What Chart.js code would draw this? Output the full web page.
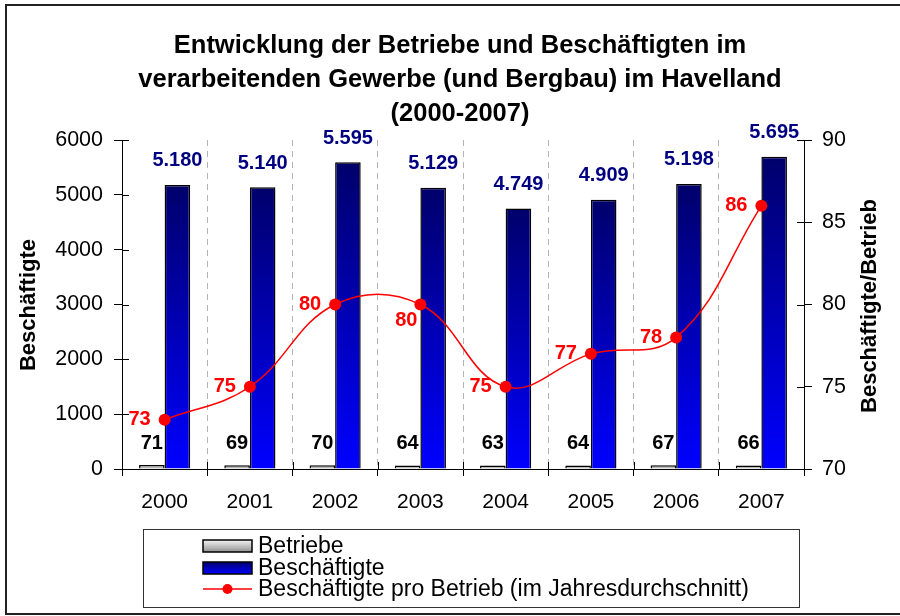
<!DOCTYPE html>
<html>
<head>
<meta charset="utf-8">
<script src="https://cdn.jsdelivr.net/npm/chart.js@4.4.1/dist/chart.umd.min.js"></script>
<style>
  html, body { margin: 0; padding: 0; background: #fff; }
  #wrap { width: 900px; height: 616px; }
</style>
</head>
<body>
<div id="wrap"><canvas id="chart" width="900" height="616"></canvas></div>
<script>
const years = ['2000', '2001', '2002', '2003', '2004', '2005', '2006', '2007'];
const betriebe = [71, 69, 70, 64, 63, 64, 67, 66];
const beschaeftigte = [5180, 5140, 5595, 5129, 4749, 4909, 5198, 5695];
const proBetrieb = [73, 75, 80, 80, 75, 77, 78, 86];
const leftTicks = [0, 1000, 2000, 3000, 4000, 5000, 6000];
const rightTicks = [70, 75, 80, 85, 90];
const titleLines = ['Entwicklung der Betriebe und Beschäftigten im',
  'verarbeitenden Gewerbe (und Bergbau) im Havelland', '(2000-2007)'];
const legendLabels = ['Betriebe', 'Beschäftigte', 'Beschäftigte pro Betrieb (im Jahresdurchschnitt)'];

const FONT = "'Liberation Sans', Arial, sans-serif";

// german thousands separator: 5180 -> 5.180
function dotted(n) {
  return String(n).replace(/\B(?=(\d{3})+(?!\d))/g, '.');
}

function barGradient(c, top, bottom) {
  const chart = c.chart;
  if (!chart.chartArea || c.type !== 'data') return bottom;
  const y = chart.scales.y;
  const y0 = y.getPixelForValue(c.raw);
  const y1 = y.getPixelForValue(0);
  const g = chart.ctx.createLinearGradient(0, y0, 0, Math.max(y1, y0 + 1));
  g.addColorStop(0, top);
  g.addColorStop(1, bottom);
  return g;
}

// frame, title, axis titles, legend, inner tick halves, value labels
const decor = {
  id: 'decor',
  beforeDraw(chart) {
    const ctx = chart.ctx;
    ctx.save();
    ctx.fillStyle = '#fff';
    ctx.fillRect(0, 0, chart.width, chart.height);
    ctx.strokeStyle = '#222';
    ctx.lineWidth = 2;
    ctx.strokeRect(6, 5, 1000, 609);
    ctx.restore();
  },
  afterDraw(chart) {
    const ctx = chart.ctx;
    const area = chart.chartArea;
    ctx.save();

    // title
    ctx.fillStyle = '#000';
    ctx.font = 'bold 25.5px ' + FONT;
    ctx.textAlign = 'center';
    ctx.textBaseline = 'alphabetic';
    titleLines.forEach((t, i) => ctx.fillText(t, 460, 53 + i * 34));

    // axis titles
    ctx.font = 'bold 22px ' + FONT;
    ctx.textBaseline = 'middle';
    ctx.save();
    ctx.translate(29, 305);
    ctx.rotate(-Math.PI / 2);
    ctx.fillText('Beschäftigte', 0, 0);
    ctx.restore();
    ctx.save();
    ctx.translate(870, 306);
    ctx.rotate(-Math.PI / 2);
    ctx.fillText('Beschäftigte/Betrieb', 0, 0);
    ctx.restore();

    // tick marks crossing into the plot
    ctx.strokeStyle = '#000';
    ctx.lineWidth = 1;
    ctx.beginPath();
    chart.scales.y.ticks.forEach(t => {
      const p = Math.round(chart.scales.y.getPixelForValue(t.value)) + 0.5;
      ctx.moveTo(area.left, p); ctx.lineTo(area.left + 7, p);
    });
    chart.scales.y1.ticks.forEach(t => {
      const p = Math.round(chart.scales.y1.getPixelForValue(t.value)) + 0.5;
      ctx.moveTo(area.right - 7, p); ctx.lineTo(area.right, p);
    });
    const xs = chart.scales.x;
    for (let i = 0; i <= years.length; i++) {
      const p = Math.round(xs.left + i * xs.width / years.length) + 0.5;
      ctx.moveTo(p, area.bottom - 7); ctx.lineTo(p, area.bottom);
    }
    ctx.stroke();

    // value labels
    ctx.textBaseline = 'middle';
    ctx.font = 'bold 20px ' + FONT;
    ctx.fillStyle = '#000';
    chart.getDatasetMeta(0).data.forEach((bar, i) => {
      ctx.fillText(betriebe[i], bar.x, bar.y - 22);
    });
    ctx.fillStyle = '#000080';
    chart.getDatasetMeta(1).data.forEach((bar, i) => {
      ctx.fillText(dotted(beschaeftigte[i]), bar.x, bar.y - 24);
    });
    ctx.fillStyle = '#ff0000';
    ctx.textAlign = 'right';
    chart.getDatasetMeta(2).data.forEach((pt, i) => {
      if (i === 3) ctx.fillText(proBetrieb[i], pt.x - 3, pt.y + 16);
      else ctx.fillText(proBetrieb[i], pt.x - 14, pt.y);
    });

    // legend
    ctx.strokeStyle = '#333';
    ctx.lineWidth = 1;
    ctx.strokeRect(143.5, 529.5, 656, 78);
    const rows = [546, 568, 589];
    for (let i = 0; i < 2; i++) {
      const g = ctx.createLinearGradient(0, rows[i] - 6, 0, rows[i] + 6);
      if (i === 0) { g.addColorStop(0, '#f4f4f4'); g.addColorStop(1, '#909090'); }
      else { g.addColorStop(0, '#00006b'); g.addColorStop(1, '#0000ff'); }
      ctx.fillStyle = g;
      ctx.fillRect(203, rows[i] - 6, 49, 12);
      ctx.lineWidth = 1.5;
      ctx.strokeStyle = '#000';
      ctx.strokeRect(203, rows[i] - 6, 49, 12);
    }
    ctx.strokeStyle = '#ff0000';
    ctx.lineWidth = 1.5;
    ctx.beginPath();
    ctx.moveTo(203, rows[2]); ctx.lineTo(252, rows[2]);
    ctx.stroke();
    ctx.fillStyle = '#ff0000';
    ctx.beginPath();
    ctx.arc(227.5, rows[2], 5, 0, Math.PI * 2);
    ctx.fill();
    ctx.fillStyle = '#000';
    ctx.font = '23px ' + FONT;
    ctx.textAlign = 'left';
    legendLabels.forEach((t, i) => ctx.fillText(t, 258, rows[i] + 1));

    ctx.restore();
  }
};

new Chart(document.getElementById('chart'), {
  type: 'bar',
  data: {
    labels: years,
    datasets: [
      {
        label: legendLabels[0],
        data: betriebe,
        yAxisID: 'y',
        order: 1,
        backgroundColor: c => barGradient(c, '#f4f4f4', '#909090'),
        borderColor: '#000',
        borderWidth: 1.5,
        barPercentage: 1,
        categoryPercentage: 0.6
      },
      {
        label: legendLabels[1],
        data: beschaeftigte,
        yAxisID: 'y',
        order: 2,
        backgroundColor: c => barGradient(c, '#00006b', '#0000ff'),
        borderColor: '#000',
        borderWidth: 1.5,
        barPercentage: 1,
        categoryPercentage: 0.6
      },
      {
        type: 'line',
        label: legendLabels[2],
        data: proBetrieb,
        yAxisID: 'y1',
        order: 0,
        borderColor: '#ff0000',
        borderWidth: 1.5,
        tension: 0.4,
        pointRadius: 6,
        pointBackgroundColor: '#ff0000',
        pointBorderColor: '#ff0000',
        pointBorderWidth: 0
      }
    ]
  },
  options: {
    responsive: false,
    animation: false,
    layout: { padding: { top: 140, bottom: 97, left: 0, right: 0 } },
    plugins: {
      legend: { display: false },
      tooltip: { enabled: false },
      title: { display: false }
    },
    scales: {
      x: {
        grid: {
          color: c => (c.index === 0 || c.index === years.length) ? 'rgba(0,0,0,0)' : '#b4b4b4',
          lineWidth: 1,
          tickLength: 7,
          tickColor: '#000',
          tickBorderDash: []
        },
        border: { display: true, color: '#000', width: 1, dash: [6, 5] },
        ticks: { color: '#000', font: { family: FONT, size: 21 }, padding: 14, maxRotation: 0 },
        afterFit: s => { s.height = 50; }
      },
      y: {
        position: 'left',
        min: 0,
        max: 6000,
        afterBuildTicks: s => { s.ticks = leftTicks.map(v => ({ value: v })); },
        grid: { drawOnChartArea: false, tickLength: 8, tickColor: '#000' },
        border: { display: true, color: '#000', width: 1 },
        ticks: { color: '#000', font: { family: FONT, size: 21.5 }, padding: 11, callback: v => String(v) },
        afterFit: s => { s.width = 122; }
      },
      y1: {
        position: 'right',
        min: 70,
        max: 90,
        afterBuildTicks: s => { s.ticks = rightTicks.map(v => ({ value: v })); },
        grid: { drawOnChartArea: false, tickLength: 8, tickColor: '#000' },
        border: { display: true, color: '#000', width: 1 },
        ticks: { color: '#000', font: { family: FONT, size: 21.5 }, padding: 10, callback: v => String(v) },
        afterFit: s => { s.width = 96; }
      }
    }
  },
  plugins: [decor]
});
</script>
</body>
</html>
